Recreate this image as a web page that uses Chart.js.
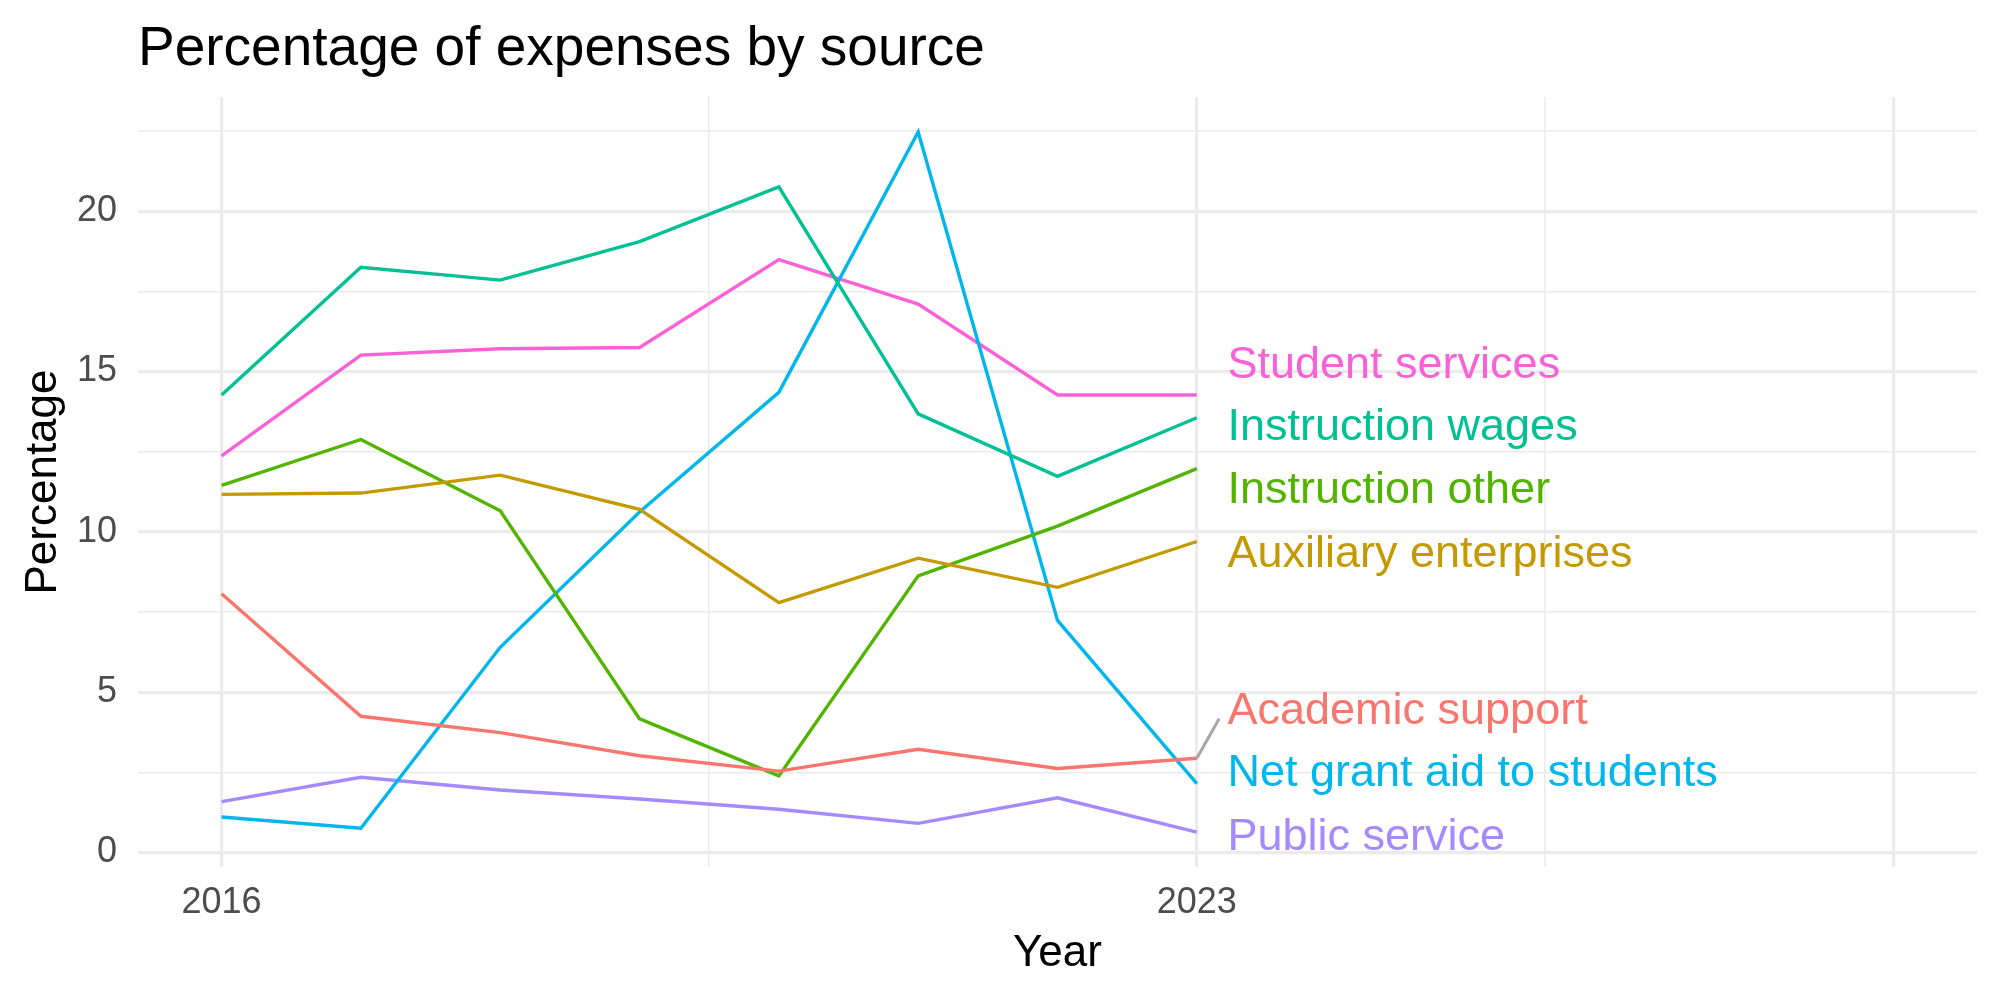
<!DOCTYPE html>
<html lang="en">
<head>
    <meta charset="UTF-8">
    <title>Percentage of expenses by source</title>
    <script src="https://cdn.jsdelivr.net/npm/chart.js"></script>
    <style>
        body {
            margin: 0;
            padding: 0;
            background: white;
        }
        .chart-container {
            width: 2000px;
            height: 1000px;
        }
    </style>
</head>
<body>
    <div class="chart-container">
        <canvas id="expenseChart" width="2000" height="1000"></canvas>
    </div>

    <script>
        // data
        const years = [2016, 2017, 2018, 2019, 2020, 2021, 2022, 2023];
        const seriesNames = ['Academic support', 'Auxiliary enterprises', 'Instruction other',
            'Instruction wages', 'Net grant aid to students', 'Public service', 'Student services'];
        const academicSupport = [8.07, 4.25, 3.74, 3.02, 2.54, 3.22, 2.62, 2.94];
        const auxiliaryEnterprises = [11.17, 11.21, 11.77, 10.70, 7.79, 9.18, 8.27, 9.70];
        const instructionOther = [11.45, 12.88, 10.66, 4.17, 2.39, 8.63, 10.18, 11.97];
        const instructionWages = [14.27, 18.25, 17.85, 19.05, 20.76, 13.68, 11.73, 13.56];
        const netGrantAid = [1.11, 0.76, 6.40, 10.62, 14.35, 22.47, 7.24, 2.15];
        const publicService = [1.59, 2.35, 1.95, 1.67, 1.35, 0.91, 1.71, 0.64];
        const studentServices = [12.37, 15.51, 15.71, 15.75, 18.49, 17.10, 14.27, 14.27];
        const xTickLabels = ['2016', '2023'];

        const seriesValues = [academicSupport, auxiliaryEnterprises, instructionOther,
            instructionWages, netGrantAid, publicService, studentServices];
        const colors = ['#F8766D', '#C49A00', '#53B400', '#00C094', '#00B6EB', '#A58AFF', '#FB61D7'];

        // where the repelled end labels sit (data units)
        const labelX = 2023.22;
        const labelY = [4.41, 9.30, 11.29, 13.24, 2.47, 0.48, 15.19];

        const FONT = '"Liberation Sans", Arial, Helvetica, sans-serif';

        const endLabels = {
            id: 'endLabels',
            afterDatasetsDraw(chart) {
                const ctx = chart.ctx;
                const xs = chart.scales.x, ys = chart.scales.y;
                ctx.save();
                // leader segment for the one label that got pushed away
                ctx.strokeStyle = '#A6A6A6';
                ctx.lineWidth = 3;
                ctx.beginPath();
                ctx.moveTo(xs.getPixelForValue(2023), ys.getPixelForValue(academicSupport[7]));
                ctx.lineTo(xs.getPixelForValue(2023.16), ys.getPixelForValue(4.17));
                ctx.stroke();

                ctx.font = '45px ' + FONT;
                ctx.textAlign = 'left';
                ctx.textBaseline = 'middle';
                seriesNames.forEach((name, i) => {
                    ctx.fillStyle = colors[i];
                    ctx.fillText(name, xs.getPixelForValue(labelX), ys.getPixelForValue(labelY[i]));
                });
                ctx.restore();
            }
        };

        const datasets = seriesNames.map((name, i) => ({
            label: name,
            data: years.map((yr, j) => ({ x: yr, y: seriesValues[i][j] })),
            borderColor: colors[i],
            backgroundColor: colors[i],
            borderWidth: 3.4,
            pointRadius: 0,
            tension: 0
        }));

        new Chart(document.getElementById('expenseChart'), {
            type: 'line',
            data: { datasets: datasets },
            plugins: [endLabels],
            options: {
                responsive: false,
                animation: false,
                layout: { padding: { left: 0, right: 23, top: 0, bottom: 0 } },
                plugins: {
                    legend: { display: false },
                    tooltip: { enabled: false },
                    title: {
                        display: true,
                        text: 'Percentage of expenses by source',
                        align: 'start',
                        fullSize: false,
                        color: '#000000',
                        font: { family: FONT, size: 55, weight: 'normal' },
                        padding: { top: 17, bottom: 14 }
                    }
                },
                scales: {
                    x: {
                        type: 'linear',
                        min: 2015.4,
                        max: 2028.6,
                        afterFit(scale) { scale.height = 133; },
                        afterBuildTicks(scale) {
                            scale.ticks = [2016, 2019.5, 2023, 2025.5, 2028].map(v => ({ value: v }));
                        },
                        ticks: {
                            autoSkip: false,
                            maxRotation: 0,
                            padding: 14,
                            color: '#4D4D4D',
                            font: { family: FONT, size: 36 },
                            callback: v => xTickLabels.includes(String(v)) ? String(v) : ''
                        },
                        grid: {
                            drawTicks: false,
                            color: '#EBEBEB',
                            lineWidth: c => Number.isInteger(c.tick.value) ? 3.2 : 1.6
                        },
                        border: { display: false },
                        title: {
                            display: true,
                            text: 'Year',
                            color: '#000000',
                            font: { family: FONT, size: 44 },
                            padding: { top: 0, bottom: 20 }
                        }
                    },
                    y: {
                        min: -0.45,
                        max: 23.56,
                        afterFit(scale) { scale.width = 138; },
                        afterBuildTicks(scale) {
                            const t = [];
                            for (let v = 0; v <= 22.5; v += 2.5) t.push({ value: v });
                            scale.ticks = t;
                        },
                        ticks: {
                            autoSkip: false,
                            padding: 21,
                            color: '#4D4D4D',
                            font: { family: FONT, size: 36 },
                            callback: v => v % 5 === 0 ? String(v) : ''
                        },
                        grid: {
                            drawTicks: false,
                            color: '#EBEBEB',
                            lineWidth: c => c.tick.value % 5 === 0 ? 3.2 : 1.6
                        },
                        border: { display: false },
                        title: {
                            display: true,
                            text: 'Percentage',
                            color: '#000000',
                            font: { family: FONT, size: 44 },
                            padding: { top: 17, bottom: 0 }
                        }
                    }
                }
            }
        });
    </script>
</body>
</html>
